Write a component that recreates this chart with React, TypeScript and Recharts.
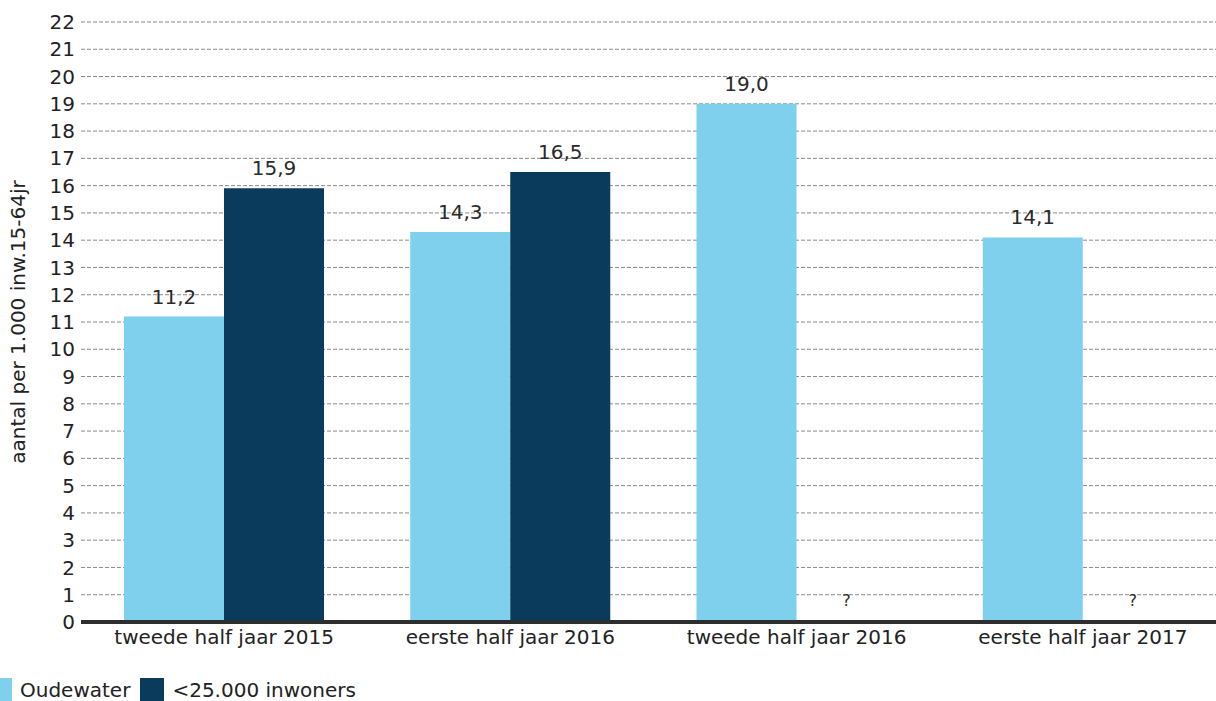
import { BarChart, Bar, XAxis, YAxis, CartesianGrid, LabelList, Legend } from 'recharts';

const CATEGORIES = ['tweede half jaar 2015', 'eerste half jaar 2016', 'tweede half jaar 2016', 'eerste half jaar 2017'];
const OUDEWATER = [11.2, 14.3, 19.0, 14.1];
// no figure for the last two half-years -> shown as "?"
const SMALL_TOWNS: (number | null)[] = [15.9, 16.5, null, null];
const Y_TICKS = [0, 1, 2, 3, 4, 5, 6, 7, 8, 9, 10, 11, 12, 13, 14, 15, 16, 17, 18, 19, 20, 21, 22];

const LIGHT = '#7ed0ec';
const DARK = '#0a3a5c';
const FONT = 'DejaVu Sans, Verdana, sans-serif';

const data = CATEGORIES.map((name, i) => ({
  name,
  oudewater: OUDEWATER[i],
  klein: SMALL_TOWNS[i],
}));

const fmt = (v: number) => v.toFixed(1).replace('.', ',');

function ValueLabel(props: any) {
  const { x, y, width, value } = props;
  return (
    <text
      x={Number(x) + Number(width) / 2}
      y={Number(y) - 20}
      textAnchor="middle"
      dominantBaseline="central"
      fontSize={20}
      fontFamily={FONT}
      fill="#2a2a2a"
    >
      {fmt(Number(value))}
    </text>
  );
}

// recharts drops empty bars, so the "?" of a missing <25.000 value
// is drawn from the neighbouring Oudewater bar (barGap is 0)
function OudewaterLabel(props: any) {
  const { x, y, width, height, index } = props;
  const missing = SMALL_TOWNS[index] == null;
  return (
    <g>
      <ValueLabel {...props} />
      {missing && (
        <text
          x={Number(x) + Number(width) * 1.5}
          y={Number(y) + Number(height) - 22}
          textAnchor="middle"
          dominantBaseline="central"
          fontSize={16}
          fontFamily={FONT}
          fill="#2a2a2a"
        >
          ?
        </text>
      )}
    </g>
  );
}

function LegendBox() {
  const items = [
    { label: 'Oudewater', color: LIGHT },
    { label: '<25.000 inwoners', color: DARK },
  ];
  return (
    <div style={{ display: 'flex', alignItems: 'center', marginLeft: -12, paddingTop: 8, fontFamily: FONT, fontSize: 20, color: '#222' }}>
      {items.map((it) => (
        <div key={it.label} style={{ display: 'flex', alignItems: 'center', marginRight: 10 }}>
          <span style={{ display: 'inline-block', width: 24, height: 24, background: it.color, marginRight: 8 }} />
          <span>{it.label}</span>
        </div>
      ))}
    </div>
  );
}

export default function App() {
  return (
    <div style={{ position: 'absolute', left: 0, top: 0, width: 1216, height: 701, overflow: 'hidden', background: '#fff' }}>
      <BarChart
        width={1240}
        height={701}
        data={data}
        margin={{ top: 22, right: 14, left: 0, bottom: 0 }}
        barCategoryGap={43}
        barGap={0}
      >
        <CartesianGrid vertical={false} stroke="#8a8a8a" strokeDasharray="4 2" />
        <XAxis
          dataKey="name"
          height={48}
          interval={0}
          tickLine={false}
          axisLine={{ stroke: '#2e2e2e', strokeWidth: 4 }}
          tick={{ fontSize: 20, fontFamily: FONT, fill: '#222' }}
          tickMargin={2}
        />
        <YAxis
          domain={[0, 22]}
          ticks={Y_TICKS}
          interval={0}
          width={81}
          axisLine={false}
          tickLine={false}
          tickSize={0}
          tickMargin={6}
          tick={{ fontSize: 20, fontFamily: FONT, fill: '#222' }}
          label={{
            value: 'aantal per 1.000 inw.15-64jr',
            angle: -90,
            position: 'insideLeft',
            offset: 0,
            dx: 18,
            style: { fontSize: 20, fontFamily: FONT, fill: '#222', textAnchor: 'middle' },
          }}
        />
        <Legend
          verticalAlign="bottom"
          align="left"
          wrapperStyle={{ left: 0, bottom: 0, height: 31 }}
          content={() => <LegendBox />}
        />
        <Bar dataKey="oudewater" fill={LIGHT} isAnimationActive={false}>
          <LabelList dataKey="oudewater" content={OudewaterLabel} />
        </Bar>
        <Bar dataKey="klein" fill={DARK} isAnimationActive={false}>
          <LabelList dataKey="klein" content={ValueLabel} />
        </Bar>
      </BarChart>
    </div>
  );
}
